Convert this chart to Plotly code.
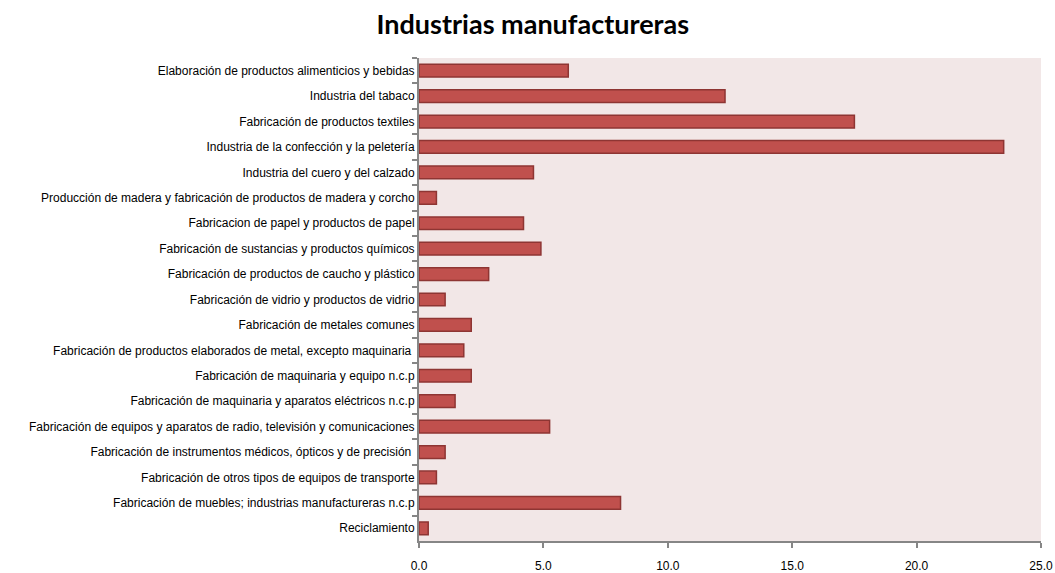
import plotly.graph_objects as go

# ramas de la industria manufacturera (de arriba hacia abajo)
categorias = [
    "Elaboración de productos alimenticios y bebidas",
    "Industria del tabaco",
    "Fabricación de productos textiles",
    "Industria de la confección y la peletería",
    "Industria del cuero y del calzado",
    "Producción de madera y fabricación de productos de madera y corcho",
    "Fabricacion de papel y productos de papel",
    "Fabricación de sustancias y productos químicos",
    "Fabricación de productos de caucho y plástico",
    "Fabricación de vidrio y productos de vidrio",
    "Fabricación de metales comunes",
    "Fabricación de productos elaborados de metal, excepto maquinaria ",
    "Fabricación de maquinaria y equipo n.c.p",
    "Fabricación de maquinaria y aparatos eléctricos n.c.p",
    "Fabricación de equipos y aparatos de radio, televisión y comunicaciones",
    "Fabricación de instrumentos médicos, ópticos y de precisión ",
    "Fabricación de otros tipos de equipos de transporte",
    "Fabricación de muebles; industrias manufactureras n.c.p",
    "Reciclamiento",
]

valores = [6.0, 12.3, 17.5, 23.5, 4.6, 0.7, 4.2, 4.9, 2.8, 1.05,
           2.1, 1.8, 2.1, 1.45, 5.25, 1.05, 0.7, 8.1, 0.37]

ticks_x = [0, 5, 10, 15, 20, 25]
etiquetas_x = ["0.0", "5.0", "10.0", "15.0", "20.0", "25.0"]

fig = go.Figure()
fig.add_trace(go.Bar(
    x=valores, y=categorias, orientation="h",
    marker=dict(color="#C0504D", line=dict(color="#8E3533", width=1.5)),
    hovertemplate="%{y}: %{x:.1f}<extra></extra>",
))

fig.update_layout(
    width=1055, height=573,
    title=dict(text="<b>Industrias manufactureras</b>", x=0.505, xanchor="center",
               y=0.958, yanchor="middle",
               font=dict(family="Lato", size=27, color="black")),
    paper_bgcolor="white",
    plot_bgcolor="#F2E7E7",
    margin=dict(l=419, r=14, t=58, b=32),
    bargap=0.5,
    showlegend=False,
    font=dict(family="Liberation Sans", size=12, color="black"),
)

fig.update_xaxes(
    range=[0, 25], tickvals=ticks_x, ticktext=etiquetas_x,
    showgrid=False, zeroline=False, automargin=False,
    showline=True, linecolor="#868686", linewidth=2,
    ticks="outside", ticklen=5, tickcolor="#868686", tickwidth=2,
    tickfont=dict(size=12), ticklabelstandoff=8,
)
fig.update_yaxes(
    autorange="reversed", automargin=False,
    showgrid=False, zeroline=False,
    showline=True, linecolor="#868686", linewidth=2,
    ticks="outside", ticklen=5, tickcolor="#868686", tickwidth=2,
    tickson="boundaries", tickfont=dict(size=12),
)

# quitar el margen por defecto del body para que la figura ocupe toda la ventana
fig.write_html("out.html", config={"displayModeBar": False},
               post_script="document.body.style.margin='0';")
